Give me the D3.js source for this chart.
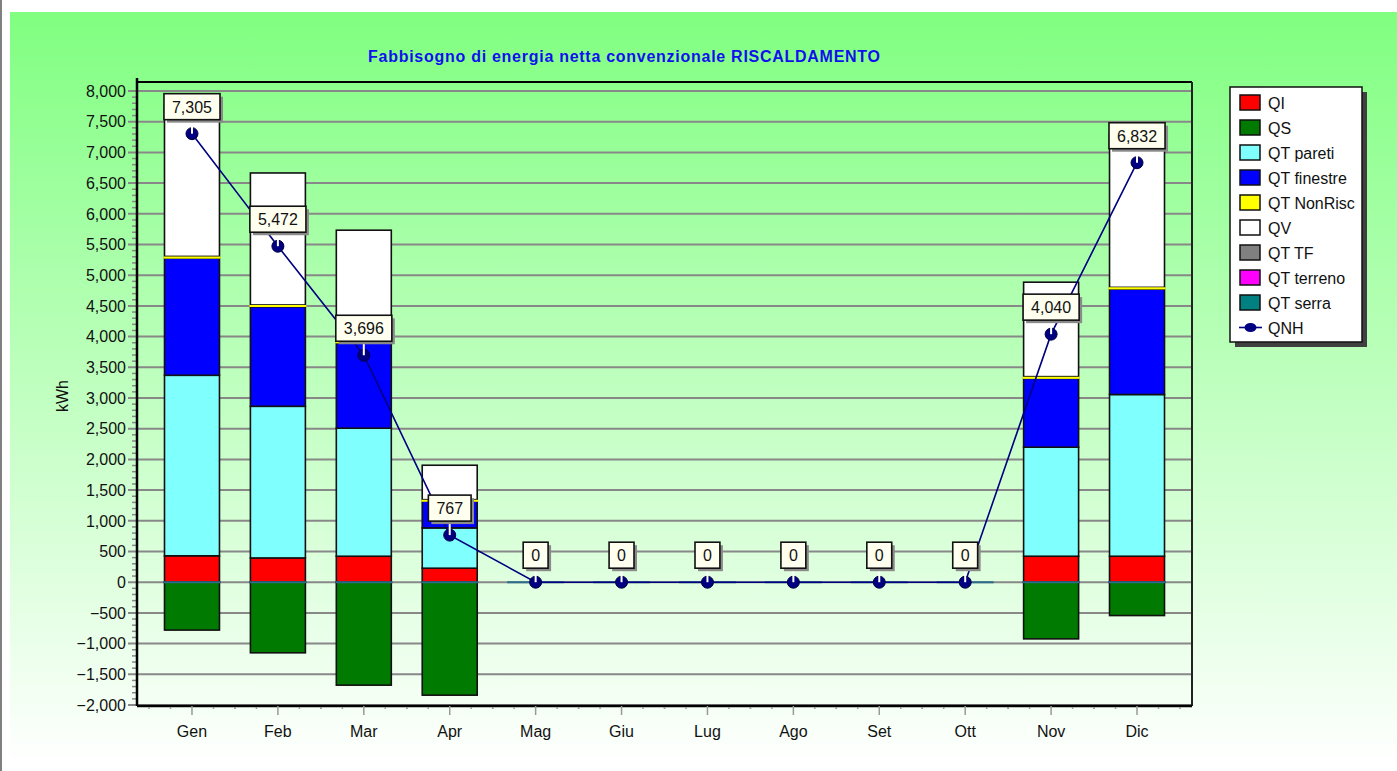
<!DOCTYPE html>
<html>
<head>
<meta charset="utf-8">
<script src="https://cdn.jsdelivr.net/npm/d3@7"></script>
<style>
  body { margin: 0; background: #fff; }
  svg { display: block; font-family: "Liberation Sans", Arial, sans-serif; }
</style>
</head>
<body>
<div id="chart"></div>
<script>
// monthly values (kWh)
var months = ["Gen", "Feb", "Mar", "Apr", "Mag", "Giu", "Lug", "Ago", "Set", "Ott", "Nov", "Dic"];

var qi         = [ 430,   395,   423,   228, 0, 0, 0, 0, 0, 0,  423,  423];
var qs         = [-780, -1150, -1677, -1840, 0, 0, 0, 0, 0, 0, -923, -543];
var qtPareti   = [2940,  2470,  2085,   656, 0, 0, 0, 0, 0, 0, 1776, 2634];
var qtFinestre = [1906,  1620,  1385,   440, 0, 0, 0, 0, 0, 0, 1119, 1715];
var qtNonRisc  = [  30,    30,    30,    20, 0, 0, 0, 0, 0, 0,   30,   30];
var qv         = [2450,  2150,  1810,   561, 0, 0, 0, 0, 0, 0, 1538, 2500];
var qtTF       = [   0,     0,     0,     0, 0, 0, 0, 0, 0, 0,    0,    0];
var qtTerreno  = [   0,     0,     0,     0, 0, 0, 0, 0, 0, 0,    0,    0];
var qtSerra    = [   0,     0,     0,     0, 0, 0, 0, 0, 0, 0,    0,    0];
var qnh        = [7305,  5472,  3696,   767, 0, 0, 0, 0, 0, 0, 4040, 6832];

var yTickValues = [-2000, -1500, -1000, -500, 0, 500, 1000, 1500, 2000, 2500, 3000,
                   3500, 4000, 4500, 5000, 5500, 6000, 6500, 7000, 7500, 8000];

var seriesKeys   = ["QI", "QS", "QT pareti", "QT finestre", "QT NonRisc", "QV", "QT TF", "QT terreno", "QT serra"];
var seriesValues = [qi, qs, qtPareti, qtFinestre, qtNonRisc, qv, qtTF, qtTerreno, qtSerra];
var seriesColors = ["#ff0000", "#007a00", "#80ffff", "#0000ff", "#ffff00", "#ffffff", "#808080", "#ff00ff", "#008080"];
var lineName = "QNH";

(function() {

  var W = 1397, H = 771,
    plot = { left: 137, top: 82, right: 1192, bottom: 706 },
    svg, defs, x, y, color, rows, stacked, step;

  svg = d3.select("#chart").append("svg")
    .attr("width", W)
    .attr("height", H);

  defs = svg.append("defs");
  var grad = defs.append("linearGradient")
    .attr("id", "bg")
    .attr("x1", 0).attr("y1", 0).attr("x2", 0).attr("y2", 1);
  grad.append("stop").attr("offset", "0%").attr("stop-color", "#80ff80");
  grad.append("stop").attr("offset", "100%").attr("stop-color", "#ffffff");

  // page background + left border
  svg.append("rect").attr("x", 10).attr("y", 12).attr("width", W - 10).attr("height", 754)
    .attr("fill", "url(#bg)");
  svg.append("line").attr("x1", 1).attr("x2", 1).attr("y1", 0).attr("y2", H)
    .attr("stroke", "#808080").attr("stroke-width", 2);

  // scales
  x = d3.scaleBand()
    .domain(months)
    .range([plot.left, plot.right])
    .paddingInner(0.36)
    .paddingOuter(0.32);
  step = x.step();

  y = d3.scaleLinear()
    .domain([-2000, 8000])
    .range([705, 91]);

  color = d3.scaleOrdinal().domain(seriesKeys).range(seriesColors);

  // table for the stack
  rows = months.map(function(m, i) {
    var r = { month: m };
    seriesKeys.forEach(function(k, j) { r[k] = seriesValues[j][i]; });
    return r;
  });
  stacked = d3.stack()
    .keys(seriesKeys)
    .offset(d3.stackOffsetDiverging)(rows);

  // title
  svg.append("text")
    .attr("x", 624).attr("y", 62)
    .attr("text-anchor", "middle")
    .attr("font-size", 16)
    .attr("font-weight", "bold")
    .attr("fill", "#1010ee")
    .attr("textLength", 512)
    .attr("lengthAdjust", "spacing")
    .text("Fabbisogno di energia netta convenzionale RISCALDAMENTO");

  // grid
  svg.append("g").selectAll("line")
    .data(yTickValues)
    .enter().append("line")
      .attr("x1", plot.left - 9).attr("x2", plot.right)
      .attr("y1", function(d) { return y(d); })
      .attr("y2", function(d) { return y(d); })
      .attr("stroke", "#888").attr("stroke-width", 2);

  // minor y ticks
  var minor = d3.range(-2000, 8001, 100).filter(function(v) { return v % 500 !== 0; });
  svg.append("g").selectAll("line")
    .data(minor)
    .enter().append("line")
      .attr("x1", plot.left - 5).attr("x2", plot.left)
      .attr("y1", function(d) { return y(d); })
      .attr("y2", function(d) { return y(d); })
      .attr("stroke", "#888").attr("stroke-width", 1.5);

  // y labels
  svg.append("g").selectAll("text")
    .data(yTickValues)
    .enter().append("text")
      .attr("x", 126)
      .attr("y", function(d) { return y(d); })
      .attr("dy", "0.36em")
      .attr("text-anchor", "end")
      .attr("font-size", 16)
      .attr("fill", "#111")
      .text(d3.format(","));

  svg.append("text")
    .attr("transform", "translate(68,396) rotate(-90)")
    .attr("text-anchor", "middle")
    .attr("font-size", 16)
    .attr("fill", "#111")
    .text("kWh");

  // bars
  var layer = svg.append("g").selectAll("g")
    .data(stacked)
    .enter().append("g")
      .attr("fill", function(d) { return color(d.key); });

  layer.selectAll("rect")
    .data(function(d) { return d.filter(function(p) { return p[1] !== p[0]; }); })
    .enter().append("rect")
      .attr("x", function(d) { return x(d.data.month); })
      .attr("width", x.bandwidth())
      .attr("y", function(d) { return y(Math.max(d[0], d[1])); })
      .attr("height", function(d) { return Math.abs(y(d[0]) - y(d[1])); })
      .attr("stroke", function(d) { return this.parentNode.__data__.key === "QT NonRisc" ? "none" : "#111"; })
      .attr("stroke-width", 1.6);

  // thin NonRisc band stays visible above its neighbours
  var nonRisc = stacked[seriesKeys.indexOf("QT NonRisc")];
  svg.append("g").selectAll("line")
    .data(nonRisc.filter(function(p) { return p[1] !== p[0]; }))
    .enter().append("line")
      .attr("x1", function(d) { return x(d.data.month) - 1; })
      .attr("x2", function(d) { return x(d.data.month) + x.bandwidth() + 1; })
      .attr("y1", function(d) { return y(d[1]) + 1; })
      .attr("y2", function(d) { return y(d[1]) + 1; })
      .attr("stroke", "#ffff00").attr("stroke-width", 2);

  // top cap (zero-height QT serra segment)
  var serra = stacked[seriesKeys.indexOf("QT serra")];
  svg.append("g").selectAll("line")
    .data(serra)
    .enter().append("line")
      .attr("x1", function(d) { return x(d.data.month) - 1; })
      .attr("x2", function(d) { return x(d.data.month) + x.bandwidth() + 1; })
      .attr("y1", function(d) { return y(d[1]); })
      .attr("y2", function(d) { return y(d[1]); })
      .attr("stroke", "#2d6d8c").attr("stroke-width", 2);

  // frame
  svg.append("line").attr("x1", plot.left).attr("x2", plot.right).attr("y1", plot.top).attr("y2", plot.top)
    .attr("stroke", "#000").attr("stroke-width", 2);
  svg.append("line").attr("x1", plot.right).attr("x2", plot.right).attr("y1", plot.top).attr("y2", plot.bottom)
    .attr("stroke", "#222").attr("stroke-width", 2);
  svg.append("line").attr("x1", plot.left).attr("x2", plot.left).attr("y1", plot.top - 4).attr("y2", plot.bottom)
    .attr("stroke", "#000").attr("stroke-width", 2.5);
  svg.append("line").attr("x1", plot.left).attr("x2", plot.right).attr("y1", plot.bottom).attr("y2", plot.bottom)
    .attr("stroke", "#000").attr("stroke-width", 2.5);

  // x ticks
  var xt = svg.append("g");
  months.forEach(function(m) {
    var c = x(m) + x.bandwidth() / 2;
    [-2, -1, 1, 2].forEach(function(k) {
      xt.append("line")
        .attr("x1", c + k * step / 4).attr("x2", c + k * step / 4)
        .attr("y1", plot.bottom + 1).attr("y2", plot.bottom + 3)
        .attr("stroke", "#999").attr("stroke-width", 1.5);
    });
    xt.append("line")
      .attr("x1", c).attr("x2", c)
      .attr("y1", plot.bottom).attr("y2", plot.bottom + 9)
      .attr("stroke", "#999").attr("stroke-width", 1.5);
  });
  svg.append("g").selectAll("text")
    .data(months)
    .enter().append("text")
      .attr("x", function(d) { return x(d) + x.bandwidth() / 2; })
      .attr("y", 737)
      .attr("text-anchor", "middle")
      .attr("font-size", 16)
      .attr("fill", "#111")
      .text(function(d) { return d; });

  // QNH line
  var pts = months.map(function(m, i) {
    return { month: m, value: qnh[i], cx: x(m) + x.bandwidth() / 2, cy: y(qnh[i]) };
  });
  svg.append("path")
    .datum(pts)
    .attr("fill", "none")
    .attr("stroke", "#000080")
    .attr("stroke-width", 1.6)
    .attr("d", d3.line().x(function(d) { return d.cx; }).y(function(d) { return d.cy; }));

  svg.append("g").selectAll("circle")
    .data(pts)
    .enter().append("circle")
      .attr("cx", function(d) { return d.cx; })
      .attr("cy", function(d) { return d.cy; })
      .attr("r", 6)
      .attr("fill", "#000080")
      .attr("stroke", "#000040").attr("stroke-width", 1);

  // value labels
  var fmt = d3.format(",");
  var lab = svg.append("g").selectAll("g")
    .data(pts)
    .enter().append("g")
      .attr("transform", function(d) { return "translate(" + d.cx + "," + (d.cy - 14) + ")"; });

  lab.append("line")
    .attr("x1", 0).attr("x2", 0).attr("y1", 0).attr("y2", 14)
    .attr("stroke", "#fff").attr("stroke-width", 2);

  lab.each(function(d) {
    var g = d3.select(this);
    var t = g.append("text")
      .attr("x", 0).attr("y", -7)
      .attr("text-anchor", "middle")
      .attr("font-size", 16)
      .attr("fill", "#111")
      .text(fmt(d.value));
    var w = t.node().getComputedTextLength() + 16;
    g.insert("rect", "text")
      .attr("x", -w / 2 + 3).attr("y", -26 + 3)
      .attr("width", w).attr("height", 26)
      .attr("fill", "#8a8a8a");
    g.insert("rect", "text")
      .attr("x", -w / 2).attr("y", -26)
      .attr("width", w).attr("height", 26)
      .attr("fill", "#fffff0")
      .attr("stroke", "#111").attr("stroke-width", 1.6);
  });

  // legend
  var lg = svg.append("g").attr("transform", "translate(1230,87)");
  lg.append("rect").attr("x", 5).attr("y", 5).attr("width", 132).attr("height", 255).attr("fill", "#404040");
  lg.append("rect").attr("width", 132).attr("height", 255)
    .attr("fill", "#fff").attr("stroke", "#111").attr("stroke-width", 1.5);

  var items = lg.selectAll("g.item")
    .data(seriesKeys.concat([lineName]))
    .enter().append("g")
      .attr("class", "item")
      .attr("transform", function(d, i) { return "translate(0," + (7 + i * 25) + ")"; });

  items.filter(function(d) { return d !== lineName; })
    .append("rect")
      .attr("x", 10).attr("y", 1)
      .attr("width", 20).attr("height", 15)
      .attr("fill", function(d) { return color(d); })
      .attr("stroke", "#111").attr("stroke-width", 1.5);

  var ln = items.filter(function(d) { return d === lineName; });
  ln.append("line").attr("x1", 9).attr("x2", 32).attr("y1", 8.5).attr("y2", 8.5)
    .attr("stroke", "#000080").attr("stroke-width", 1.6);
  ln.append("ellipse").attr("cx", 20.5).attr("cy", 8.5).attr("rx", 6).attr("ry", 4.5)
    .attr("fill", "#000080");

  items.append("text")
    .attr("x", 38).attr("y", 14.5)
    .attr("font-size", 16)
    .attr("fill", "#111")
    .text(function(d) { return d; });

}());
</script>
</body>
</html>
